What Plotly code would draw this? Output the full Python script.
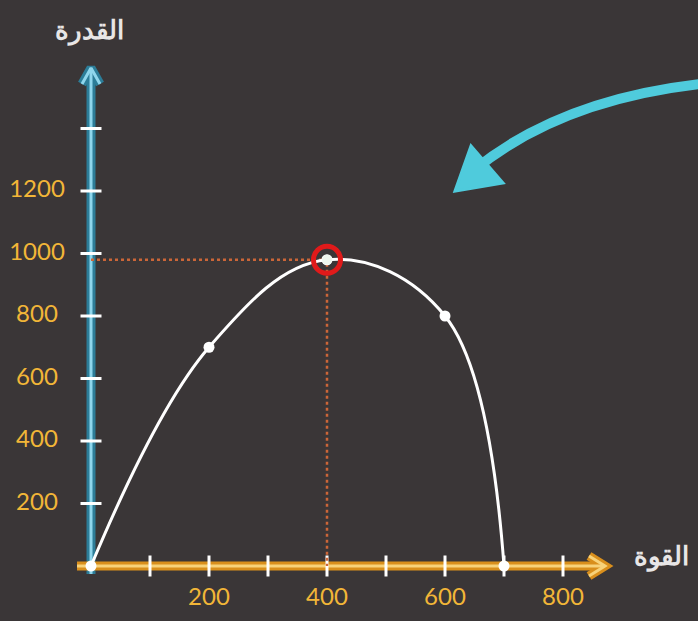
import plotly.graph_objects as go

# Data: power (القدرة) vs force (القوة)
force = [0, 200, 400, 600, 700]
power = [0, 700, 980, 800, 0]
peak_force = 400
peak_power = 980

y_tick_vals = [200, 400, 600, 800, 1000, 1200]
y_tick_marks = [200, 400, 600, 800, 1000, 1200, 1400]
x_tick_vals = [200, 400, 600, 800]
x_tick_marks = [100, 200, 300, 400, 500, 600, 700, 800]

W, H = 698, 621
BG = "#3a3637"
TEAL_DARK = "#2c7d98"
TEAL_LIGHT = "#8fd6ec"
ORANGE_DARK = "#d98f1c"
ORANGE_LIGHT = "#f7d27a"
LABEL = "#f2b638"
RING = "#e01a1a"

# pixel placement of the data origin and scale
X0_PX, X_SCALE = 91, 0.59
Y0_PX, Y_SCALE = 566, 0.3125
x_range = [-X0_PX / X_SCALE, (W - X0_PX) / X_SCALE]
y_range = [-(H - Y0_PX) / Y_SCALE, Y0_PX / Y_SCALE]


def dx(p):
    return p / X_SCALE


def dy(p):
    return p / Y_SCALE


def px(x, y):
    return x / W, 1 - y / H


fig = go.Figure()

# axes drawn as glowing lines with open arrowheads
y_top = dy(Y0_PX - 68)
x_right = dx(605 - X0_PX)
for w, c in [(9, TEAL_DARK), (3, TEAL_LIGHT)]:
    fig.add_trace(go.Scatter(x=[0, 0], y=[-dy(8), y_top], mode="lines",
                             line=dict(color=c, width=w), hoverinfo="skip"))
    fig.add_trace(go.Scatter(x=[dx(-9), 0, dx(9)],
                             y=[y_top - dy(16), y_top, y_top - dy(16)], mode="lines",
                             line=dict(color=c, width=w), hoverinfo="skip"))
for w, c in [(9, ORANGE_DARK), (3, ORANGE_LIGHT)]:
    fig.add_trace(go.Scatter(x=[-dx(14), x_right], y=[0, 0], mode="lines",
                             line=dict(color=c, width=w), hoverinfo="skip"))
    fig.add_trace(go.Scatter(x=[x_right - dx(16), x_right, x_right - dx(16)],
                             y=[dy(10), 0, -dy(10)], mode="lines",
                             line=dict(color=c, width=w), hoverinfo="skip"))

# tick marks
fig.add_trace(go.Scatter(x=[0] * len(y_tick_marks), y=y_tick_marks, mode="markers",
                         marker=dict(symbol="line-ew", size=15, color="white",
                                     line=dict(color="white", width=3)),
                         hoverinfo="skip"))
fig.add_trace(go.Scatter(x=x_tick_marks, y=[0] * len(x_tick_marks), mode="markers",
                         marker=dict(symbol="line-ns", size=15, color="white",
                                     line=dict(color="white", width=3)),
                         hoverinfo="skip"))

# guide lines to the peak
fig.add_trace(go.Scatter(x=[0, peak_force, peak_force], y=[peak_power, peak_power, 0],
                         mode="lines", line=dict(color="#cc6638", width=2.5, dash="dot"),
                         hoverinfo="skip"))

# power curve
fig.add_trace(go.Scatter(x=force, y=power, mode="lines+markers",
                         line=dict(color="white", width=3, shape="spline", smoothing=1.1),
                         marker=dict(color="white", size=11), hoverinfo="skip"))

# highlight ring at the maximum
fig.add_trace(go.Scatter(x=[peak_force], y=[peak_power], mode="markers",
                         marker=dict(symbol="circle-open", size=27, color=RING,
                                     line=dict(color=RING, width=5)),
                         hoverinfo="skip"))
fig.add_trace(go.Scatter(x=[peak_force], y=[peak_power], mode="markers",
                         marker=dict(color="#eef6ee", size=10), hoverinfo="skip"))

# tick labels
fig.add_trace(go.Scatter(x=[dx(37 - X0_PX)] * len(y_tick_vals), y=y_tick_vals,
                         mode="text", text=[str(v) for v in y_tick_vals],
                         textfont=dict(family="Lato", size=24, color=LABEL),
                         hoverinfo="skip"))
fig.add_trace(go.Scatter(x=x_tick_vals, y=[-dy(33)] * len(x_tick_vals),
                         mode="text", text=[str(v) for v in x_tick_vals],
                         textfont=dict(family="Lato", size=24, color=LABEL),
                         hoverinfo="skip"))

# axis titles
ax, ay = px(89, 29)
fig.add_annotation(x=ax, y=ay, xref="paper", yref="paper", text="<b>القدرة</b>",
                   xanchor="center", yanchor="middle", showarrow=False,
                   font=dict(family="Noto Sans", size=26, color="#e8e6e6"))
ax, ay = px(661, 555)
fig.add_annotation(x=ax, y=ay, xref="paper", yref="paper", text="<b>القوة</b>",
                   xanchor="center", yanchor="middle", showarrow=False,
                   font=dict(family="Noto Sans", size=26, color="#e8e6e6"))

# curved pointer arrow
p0 = px(700, 84)
pc = px(560, 100)
p1 = px(474, 170)
fig.add_shape(type="path", xref="paper", yref="paper",
              path=f"M {p0[0]},{p0[1]} Q {pc[0]},{pc[1]} {p1[0]},{p1[1]}",
              line=dict(color="#4fcbdc", width=10))
t, a, b = px(455, 191), px(471, 146), px(503, 183)
fig.add_shape(type="path", xref="paper", yref="paper",
              path=f"M {t[0]},{t[1]} L {a[0]},{a[1]} L {b[0]},{b[1]} Z",
              fillcolor="#4fcbdc", line=dict(color="#4fcbdc", width=3))

fig.update_layout(
    width=W, height=H,
    margin=dict(l=0, r=0, t=0, b=0),
    paper_bgcolor=BG, plot_bgcolor=BG,
    showlegend=False,
    xaxis=dict(range=x_range, visible=False, fixedrange=True),
    yaxis=dict(range=y_range, visible=False, fixedrange=True),
)

fig.write_html("out.html")
